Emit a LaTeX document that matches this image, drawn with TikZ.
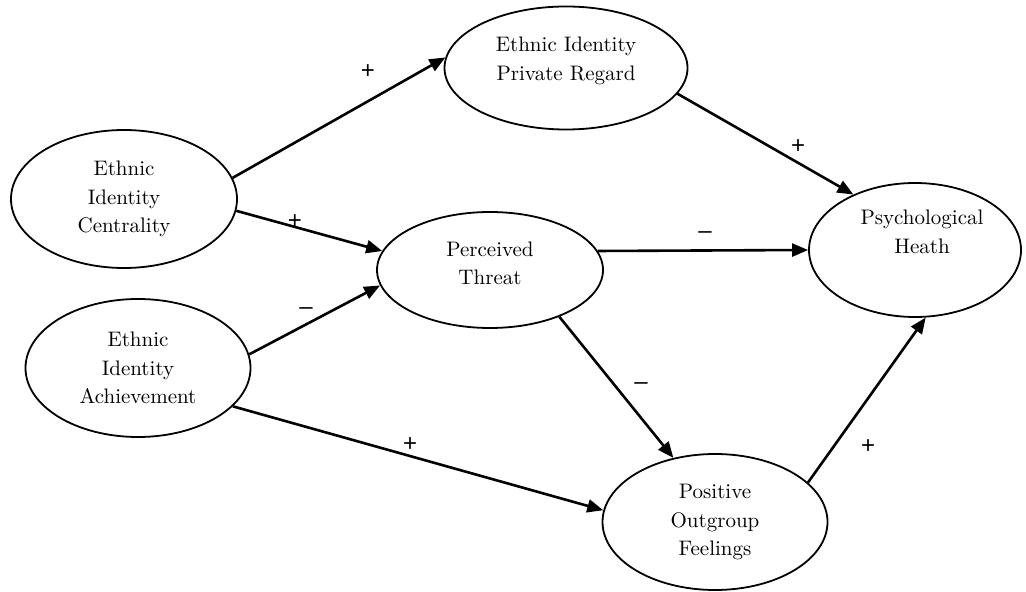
\documentclass[tikz,border=0pt]{standalone}
\usepackage{fontspec}
\newfontfamily\signfont{Liberation Sans}
\usetikzlibrary{shapes.geometric,arrows.meta}

\tikzset{
  txt/.style={align=center, font=\fontsize{10.5}{14.25}\selectfont},
  latent/.style={draw, ellipse, line width=0.9pt, inner sep=0pt, txt},
  link/.style={->, line width=1.3pt},
  sign/.style={font=\signfont\fontsize{12}{12}\selectfont, inner sep=0pt, text height=0.65em, text depth=0pt},
  >={Triangle[length=8pt,width=6.5pt]}
}

\begin{document}
\begin{tikzpicture}[x=0.5pt, y=-0.5pt]
      \useasboundingbox (0,0) rectangle (1026,592);

      \node[latent, minimum width=113pt, minimum height=69pt] (cent) at (124, 199) {Ethnic\\Identity\\Centrality};
      \node[latent, minimum width=112.5pt, minimum height=69pt] (achv) at (138, 368) {Ethnic\\Identity\\Achievement};
      \node[latent, minimum width=121.5pt, minimum height=61.5pt,
            label={[txt, yshift=3.5pt]center:Ethnic Identity\\Private Regard}] (priv) at (566, 68) {};
      \node[latent, minimum width=113pt, minimum height=58pt,
            label={[txt, yshift=3.25pt]center:Perceived\\Threat}] (threat) at (490, 270) {};
      \node[latent, minimum width=106pt, minimum height=67pt,
            label={[txt, xshift=3.5pt, yshift=9pt]center:Psychological\\Heath}] (psych) at (915, 250) {};
      \node[latent, minimum width=112.5pt, minimum height=68pt] (outg) at (715, 522) {Positive\\Outgroup\\Feelings};

      \draw[link] (cent.11)   -- (priv.175);
      \draw[link] (cent.-6)   -- (threat.170);
      \draw[link] (achv.7)    -- (threat.188);
      \draw[link] (achv.-22)  -- (outg.174);
      \draw[link] (priv.-13)  -- (psych.138);
      \draw[link] (threat.10) -- (psych.west);
      \draw[link] (threat.-34) -- (outg.123);
      \draw[link] (outg.23)   -- (psych.-81);

      \node[sign] (scp) at (368, 72)  {+};
      \node[sign] (sct) at (295, 222) {+};
      \node[sign] (sat) at (306, 308) {–};
      \node[sign] (sao) at (410, 445) {+};
      \node[sign] (spp) at (798, 147) {+};
      \node[sign] (stp) at (705, 232) {–};
      \node[sign] (sto) at (641, 383) {–};
      \node[sign] (sop) at (868, 447) {+};
    \end{tikzpicture}
\end{document}
